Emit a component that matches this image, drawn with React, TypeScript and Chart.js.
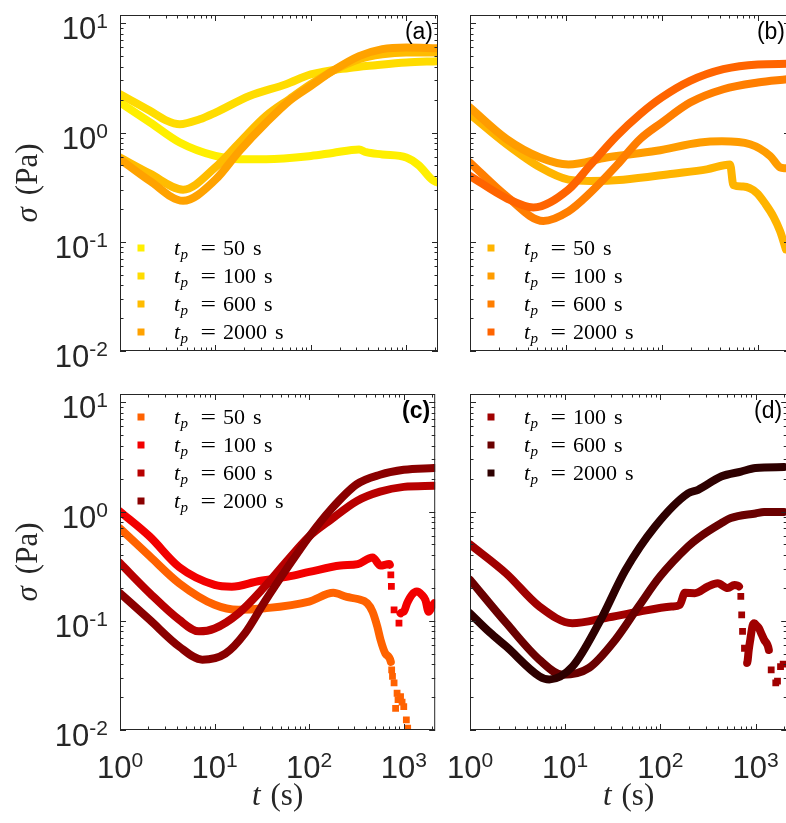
import { useEffect, useRef } from 'react';
import { Chart, registerables } from 'chart.js';

Chart.register(...registerables);

const SANS = '"Liberation Sans", Arial, Helvetica, sans-serif';
const SERIF = '"Liberation Serif", "DejaVu Serif", "Times New Roman", serif';
const INK = '#262626';

// ---------- shared axis data ----------
const X_MIN = 1;
const X_MAX = 2150;
const Y_MIN = 0.01;
const Y_MAX = 11.9;
const X_DECADES = [0, 1, 2, 3];
const Y_DECADES = [-2, -1, 0, 1];
const LEGEND_LABELS_4 = ['50 s', '100 s', '600 s', '2000 s'];
const LEGEND_LABELS_3 = ['100 s', '600 s', '2000 s'];

// ---------- panel (a) ----------
const tA50 = [1, 2.06, 4.23, 10, 17.9, 34, 100, 169, 320, 380, 561, 1000, 1355, 1864, 2100];
const sA50 = [1.88, 1.24, 0.81, 0.61, 0.57, 0.57, 0.61, 0.65, 0.7, 0.66, 0.63, 0.59, 0.5, 0.37, 0.35];
const tA100 = [1, 2.06, 3, 4.23, 6.84, 10, 22.7, 55, 100, 252, 478, 1000, 2100];
const sA100 = [2.24, 1.58, 1.3, 1.19, 1.32, 1.52, 2.16, 2.77, 3.4, 3.9, 4.13, 4.37, 4.5];
const tA600 = [1, 2.06, 4.58, 10, 17.9, 34, 59.5, 100, 169, 320, 561, 1000, 2100];
const sA600 = [0.59, 0.42, 0.3, 0.48, 0.81, 1.42, 2.02, 2.77, 3.66, 4.7, 5.2, 5.4, 5.4];
const tA2000 = [1, 2.06, 4.58, 10, 17.9, 34, 59.5, 100, 169, 320, 561, 1000, 2100];
const sA2000 = [0.57, 0.36, 0.237, 0.37, 0.68, 1.23, 1.95, 2.67, 3.66, 5.0, 5.8, 6.0, 5.9];

// ---------- panel (b) ----------
const tB50 = [1, 2.41, 5.36, 10.6, 17.8, 39.5, 131, 292, 511, 553, 700, 969, 1200, 1445, 1695, 1950];
const sB50 = [1.47, 0.78, 0.48, 0.37, 0.36, 0.37, 0.42, 0.46, 0.51, 0.33, 0.32, 0.28, 0.22, 0.17, 0.125, 0.085];
const tB100 = [1, 2.41, 5.36, 10.6, 26.5, 88, 249, 420, 825, 1334, 1695, 1950];
const sB100 = [1.69, 0.87, 0.59, 0.51, 0.59, 0.68, 0.81, 0.83, 0.78, 0.61, 0.48, 0.47];
const tB600 = [1, 2.41, 5.8, 10.6, 17.8, 33.7, 59, 99, 196, 435, 993, 2000];
const sB600 = [0.53, 0.26, 0.155, 0.19, 0.28, 0.5, 0.87, 1.23, 1.88, 2.49, 2.87, 3.07];
const tB2000 = [1, 2.41, 4.57, 10.6, 17.8, 33.7, 59, 99, 196, 435, 993, 2000];
const sB2000 = [0.4, 0.25, 0.206, 0.3, 0.5, 0.93, 1.47, 2.09, 2.97, 3.8, 4.2, 4.25];

// ---------- panel (c) ----------
const tC50 = [1, 2.06, 4.23, 10, 17.9, 34, 100, 180, 250, 326, 410, 468, 525, 568, 640, 730, 745, 760, 790, 820, 850, 870, 925, 960, 1000, 1065, 1100];
const sC50 = [0.7, 0.39, 0.22, 0.14, 0.126, 0.13, 0.15, 0.18, 0.165, 0.158, 0.145, 0.121, 0.0885, 0.067, 0.05, 0.042, 0.0355, 0.031, 0.027, 0.0158, 0.0217, 0.019, 0.0202, 0.018, 0.0164, 0.0124, 0.0104];
const tC100 = [1, 2.06, 4.23, 10, 15.2, 28.9, 59.5, 100, 214, 326, 468, 568, 700, 713, 730, 740, 790, 890, 925, 1000, 1085, 1220, 1375, 1550, 1695, 1830, 1990, 2100];
const sC100 = [1.0, 0.59, 0.31, 0.213, 0.205, 0.23, 0.254, 0.28, 0.32, 0.33, 0.38, 0.32, 0.33, 0.325, 0.263, 0.206, 0.126, 0.095, 0.117, 0.121, 0.145, 0.173, 0.185, 0.173, 0.155, 0.121, 0.135, 0.145];
const tC600 = [1, 2.06, 4.23, 6.84, 10, 17.9, 34, 59.5, 100, 169, 320, 561, 1000, 2100];
const sC600 = [0.337, 0.179, 0.102, 0.08, 0.085, 0.117, 0.206, 0.36, 0.59, 0.84, 1.25, 1.52, 1.68, 1.72];
const tC2000 = [1, 2.06, 4.23, 7.41, 13, 21, 34, 59.5, 100, 169, 320, 561, 1000, 2100];
const sC2000 = [0.179, 0.102, 0.058, 0.044, 0.05, 0.077, 0.15, 0.31, 0.59, 1.04, 1.78, 2.17, 2.41, 2.5];

// ---------- panel (d) ----------
const tD100 = [1, 2.41, 5.36, 11.9, 26.5, 59, 131, 160, 181, 230, 316, 400, 510, 600, 670, 700, 715, 730, 765, 815, 850, 880, 930, 970, 1030, 1090, 1160, 1230, 1380, 1460, 1630, 1700, 1830, 1950];
const sD100 = [0.5, 0.27, 0.135, 0.095, 0.106, 0.121, 0.135, 0.14, 0.18, 0.179, 0.206, 0.22, 0.199, 0.213, 0.206, 0.167, 0.113, 0.08, 0.056, 0.041, 0.055, 0.067, 0.09, 0.095, 0.09, 0.085, 0.075, 0.067, 0.054, 0.0355, 0.027, 0.028, 0.038, 0.04];
const tD600 = [1, 2.41, 5.36, 9.38, 17.8, 33.7, 59, 99, 196, 249, 435, 550, 1000, 1230, 2000];
const sD600 = [0.237, 0.095, 0.044, 0.032, 0.037, 0.067, 0.135, 0.254, 0.48, 0.57, 0.78, 0.87, 0.96, 0.99, 0.99];
const tD2000 = [1, 1.62, 2.41, 5.36, 6.81, 11.9, 22.6, 42.9, 88, 196, 249, 435, 703, 1000, 2000];
const sD2000 = [0.117, 0.078, 0.058, 0.031, 0.029, 0.038, 0.095, 0.29, 0.73, 1.47, 1.58, 2.09, 2.32, 2.5, 2.55];

// ---------- colours ----------
const COLORS_A = ['#FFEF00', '#FFDC00', '#FFBC00', '#FFA200'];
const COLORS_B = ['#FFB400', '#FF9C00', '#FF7E00', '#FF6400'];
const COLORS_C = ['#FF6200', '#F20000', '#B80000', '#8A0000'];
const COLORS_D = ['#A00000', '#6A0000', '#2E0000'];

type Series = { label: string; t: number[]; s: number[]; color: string; gaps?: [number, number][] };

type PanelCfg = {
  tag: string;
  boldTag?: boolean;
  series: Series[];
  showX: boolean;
  showY: boolean;
  legendAt: 'top' | 'bottom';
  left: number;
  top: number;
  w: number;
  h: number;
  padTop: number;
  yWidth: number;
  xHeight: number;
};

const mk = (labels: string[], ts: number[][], ss: number[][], colors: string[], gaps: ([number, number][] | undefined)[] = []) =>
  labels.map((label, i) => ({ label, t: ts[i], s: ss[i], color: colors[i], gaps: gaps[i] }));

const PANELS: PanelCfg[] = [
  {
    tag: '(a)', series: mk(LEGEND_LABELS_4, [tA50, tA100, tA600, tA2000], [sA50, sA100, sA600, sA2000], COLORS_A),
    showX: false, showY: true, legendAt: 'bottom', left: 0, top: 0, w: 440, h: 380, padTop: 15, yWidth: 120, xHeight: 29,
  },
  {
    tag: '(b)', series: mk(LEGEND_LABELS_4, [tB50, tB100, tB600, tB2000], [sB50, sB100, sB600, sB2000], COLORS_B),
    showX: false, showY: false, legendAt: 'bottom', left: 440, top: 0, w: 352, h: 380, padTop: 15, yWidth: 30, xHeight: 29,
  },
  {
    tag: '(c)', boldTag: true,
    series: mk(LEGEND_LABELS_4, [tC50, tC100, tC600, tC2000], [sC50, sC100, sC600, sC2000], COLORS_C, [[[730, Infinity]], [[713, 925]]]),
    showX: true, showY: true, legendAt: 'top', left: 0, top: 380, w: 440, h: 443, padTop: 14, yWidth: 120, xHeight: 93,
  },
  {
    tag: '(d)', series: mk(LEGEND_LABELS_3, [tD100, tD600, tD2000], [sD100, sD600, sD2000], COLORS_D, [[[670, 815], [1380, Infinity]]]),
    showX: true, showY: false, legendAt: 'top', left: 440, top: 380, w: 352, h: 443, padTop: 14, yWidth: 30, xHeight: 93,
  },
];

const inGap = (s: Series, x: number) => !!s.gaps && s.gaps.some(([a, b]) => x > a && x < b);
const segInGap = (s: Series, x0: number, x1: number) => !!s.gaps && s.gaps.some(([a, b]) => x0 >= a && x1 <= b);

function drawPow(ctx: CanvasRenderingContext2D, exp: string, x: number, y: number, align: 'center' | 'right') {
  ctx.font = `31px ${SANS}`;
  const w1 = ctx.measureText('10').width;
  ctx.font = `21px ${SANS}`;
  const w2 = ctx.measureText(exp).width;
  const sx = align === 'center' ? x - (w1 + w2) / 2 : x - (w1 + w2);
  ctx.font = `31px ${SANS}`;
  ctx.fillText('10', sx, y);
  ctx.font = `21px ${SANS}`;
  ctx.fillText(exp, sx + w1, y - 11);
}

function makeFrame(cfg: PanelCfg) {
  return {
    id: 'frame_' + cfg.tag,
    afterDraw(chart: any) {
      const ctx: CanvasRenderingContext2D = chart.ctx;
      const { left, right, top, bottom } = chart.chartArea;
      const xs = chart.scales.x;
      const ys = chart.scales.y;
      ctx.save();
      ctx.strokeStyle = INK;
      ctx.fillStyle = INK;
      ctx.lineWidth = 1;
      ctx.textAlign = 'left';
      ctx.textBaseline = 'alphabetic';

      // ticks (inward, all four sides)
      ctx.beginPath();
      for (let k = -1; k <= 4; k++) {
        for (let m = 1; m <= 9; m++) {
          const v = m * Math.pow(10, k);
          if (v < X_MIN || v > X_MAX) continue;
          const px = Math.round(xs.getPixelForValue(v)) + 0.5;
          const len = m === 1 ? 6 : 3.5;
          ctx.moveTo(px, bottom); ctx.lineTo(px, bottom - len);
          ctx.moveTo(px, top); ctx.lineTo(px, top + len);
        }
      }
      for (let k = -3; k <= 2; k++) {
        for (let m = 1; m <= 9; m++) {
          const v = m * Math.pow(10, k);
          if (v < Y_MIN || v > Y_MAX) continue;
          const py = Math.round(ys.getPixelForValue(v)) + 0.5;
          const len = m === 1 ? 6 : 3.5;
          ctx.moveTo(left, py); ctx.lineTo(left + len, py);
          ctx.moveTo(right, py); ctx.lineTo(right - len, py);
        }
      }
      ctx.stroke();
      ctx.strokeRect(left + 0.5, top + 0.5, right - left - 1, bottom - top - 1);

      // tick labels
      if (cfg.showX) {
        for (const d of X_DECADES) drawPow(ctx, String(d), xs.getPixelForValue(Math.pow(10, d)), bottom + 48, 'center');
        // x title: t (s)
        ctx.font = `italic 31px ${SERIF}`;
        const wt = ctx.measureText('t').width;
        ctx.font = `31px ${SERIF}`;
        const ws = ctx.measureText('(s)').width;
        const gap = 10;
        const sx = (left + right) / 2 - (wt + gap + ws) / 2;
        ctx.font = `italic 31px ${SERIF}`;
        ctx.fillText('t', sx, bottom + 75);
        ctx.font = `31px ${SERIF}`;
        ctx.fillText('(s)', sx + wt + gap, bottom + 75);
      }
      if (cfg.showY) {
        for (const d of Y_DECADES) drawPow(ctx, String(d), left - 12, ys.getPixelForValue(Math.pow(10, d)) + 16, 'right');
        // y title: σ (Pa)
        ctx.save();
        ctx.translate(37, (top + bottom) / 2);
        ctx.rotate(-Math.PI / 2);
        ctx.font = `italic 31px ${SERIF}`;
        const wsig = ctx.measureText('σ').width;
        ctx.font = `31px ${SERIF}`;
        const wpa = ctx.measureText('(Pa)').width;
        const gap = 12;
        const sx = -(wsig + gap + wpa) / 2;
        ctx.font = `italic 31px ${SERIF}`;
        ctx.fillText('σ', sx, 0);
        ctx.font = `31px ${SERIF}`;
        ctx.fillText('(Pa)', sx + wsig + gap, 0);
        ctx.restore();
      }

      // panel tag
      ctx.textAlign = 'right';
      ctx.textBaseline = 'middle';
      ctx.font = `${cfg.boldTag ? 'bold ' : ''}23px ${SANS}`;
      ctx.fillStyle = '#000';
      ctx.fillText(cfg.tag, right - 5, top + 18);

      // legend
      ctx.textAlign = 'left';
      ctx.textBaseline = 'alphabetic';
      const n = cfg.series.length;
      const rowH = 28;
      const firstY = cfg.legendAt === 'top' ? top + 23 : bottom - 19 - (n - 1) * rowH;
      cfg.series.forEach((s, i) => {
        const cy = firstY + i * rowH;
        ctx.fillStyle = s.color;
        ctx.fillRect(left + 21 - 3.5, cy - 3.5, 7, 7);
        ctx.fillStyle = '#000';
        const x0 = left + 54;
        const base = cy + 6.5;
        ctx.font = `italic 22px ${SERIF}`;
        ctx.fillText('t', x0, base);
        const wt = ctx.measureText('t').width;
        ctx.font = `italic 15px ${SERIF}`;
        ctx.fillText('p', x0 + wt + 0.5, base + 4.5);
        ctx.font = `22px ${SERIF}`;
        ctx.save();
        ctx.translate(x0 + 26.5, base);
        ctx.scale(1.25, 1);
        ctx.fillText('=', 0, 0);
        ctx.restore();
        const [num, unit] = s.label.split(' ');
        ctx.fillText(num, x0 + 49, base);
        const wn = ctx.measureText(num).width;
        ctx.fillText(unit, x0 + 49 + wn + 8, base);
      });
      ctx.restore();
    },
  };
}

function Panel({ cfg }: { cfg: PanelCfg }) {
  const ref = useRef<HTMLCanvasElement>(null);
  useEffect(() => {
    const canvas = ref.current;
    if (!canvas) return;
    const chart = new Chart(canvas, {
      type: 'line',
      data: {
        datasets: cfg.series.map((s, i) => ({
          label: `t_p = ${s.label}`,
          data: s.t.map((t, j) => ({ x: t, y: s.s[j] })),
          borderColor: s.color,
          backgroundColor: s.color,
          borderWidth: 8,
          borderJoinStyle: 'round',
          borderCapStyle: 'round',
          cubicInterpolationMode: 'monotone',
          pointStyle: 'rect',
          pointBorderWidth: 0,
          pointRadius: (c: any) => (c.raw && inGap(s, c.raw.x) ? 4.8 : 0),
          pointHoverRadius: 0,
          segment: {
            borderColor: (c: any) => (segInGap(s, c.p0.parsed.x, c.p1.parsed.x) ? 'rgba(0,0,0,0)' : undefined),
          },
          order: -i,
          clip: 0,
          fill: false,
        })) as any,
      },
      options: {
        responsive: false,
        animation: false,
        events: [],
        parsing: true,
        layout: { padding: { top: cfg.padTop, right: 2, left: 0, bottom: 0 } },
        plugins: { legend: { display: false }, tooltip: { enabled: false }, title: { display: false } },
        scales: {
          x: {
            type: 'logarithmic', min: X_MIN, max: X_MAX,
            ticks: { display: false }, grid: { display: false, drawTicks: false }, border: { display: false },
            afterFit: (sc: any) => { sc.height = cfg.xHeight; },
          },
          y: {
            type: 'logarithmic', min: Y_MIN, max: Y_MAX,
            ticks: { display: false }, grid: { display: false, drawTicks: false }, border: { display: false },
            afterFit: (sc: any) => { sc.width = cfg.yWidth; },
          },
        },
      } as any,
      plugins: [makeFrame(cfg)],
    });
    return () => chart.destroy();
  }, [cfg]);
  return (
    <canvas
      ref={ref}
      width={cfg.w}
      height={cfg.h}
      style={{ position: 'absolute', left: cfg.left, top: cfg.top, width: cfg.w, height: cfg.h }}
    />
  );
}

export default function App() {
  return (
    <div style={{ position: 'fixed', left: 0, top: 0, width: 786, height: 823, overflow: 'hidden', background: '#fff' }}>
      {PANELS.map((p) => (
        <Panel key={p.tag} cfg={p} />
      ))}
    </div>
  );
}
